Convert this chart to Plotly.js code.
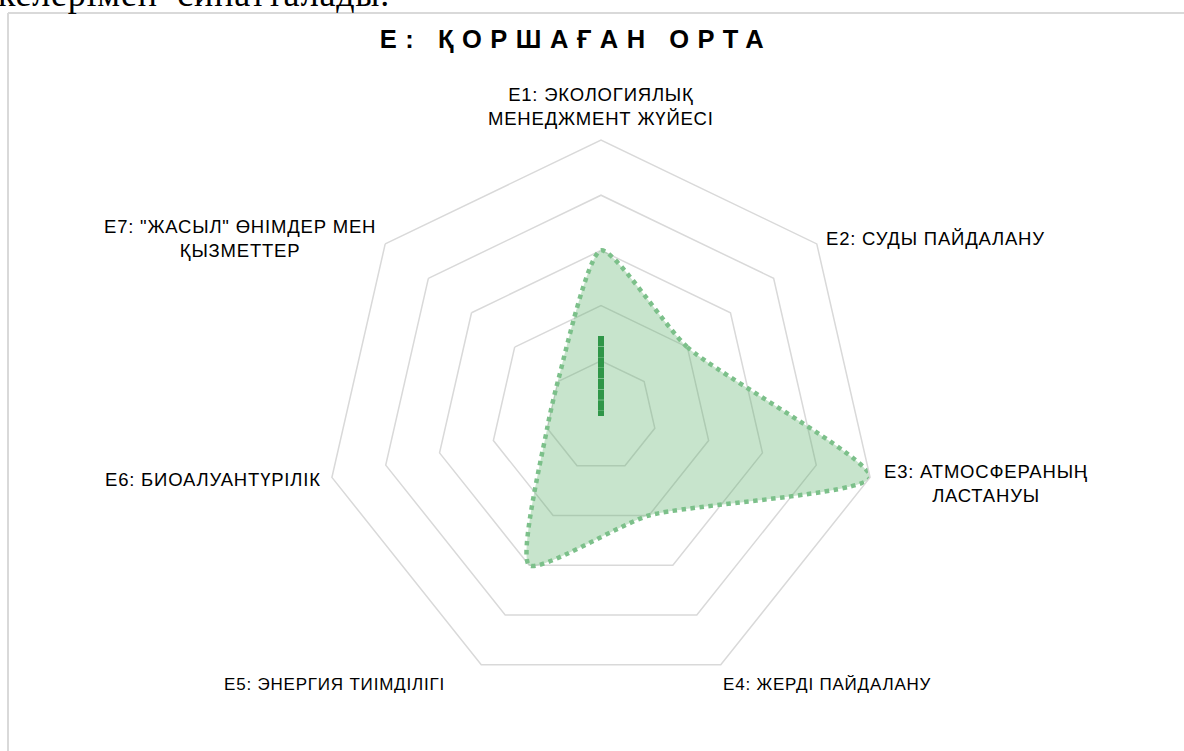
<!DOCTYPE html>
<html>
<head>
<meta charset="utf-8">
<script src="https://cdn.plot.ly/plotly-3.0.1.min.js"></script>
<style>
html,body{margin:0;padding:0;background:#fff;}
#chart{width:1184px;height:751px;}
.gtitle{letter-spacing:8.5px;}
.annotation-text{letter-spacing:0.8px;}
</style>
</head>
<body>
<div id="chart"></div>
<script>
// ---- data ----
const categories = ["E1", "E2", "E3", "E4", "E5", "E6", "E7"];
const categoryLabels = [
  "E1: ЭКОЛОГИЯЛЫҚ<br>МЕНЕДЖМЕНТ ЖҮЙЕСІ",
  "E2: СУДЫ ПАЙДАЛАНУ",
  "E3: АТМОСФЕРАНЫҢ<br>ЛАСТАНУЫ",
  "E4: ЖЕРДІ ПАЙДАЛАНУ",
  "E5: ЭНЕРГИЯ ТИІМДІЛІГІ",
  "E6: БИОАЛУАНТҮРІЛІК",
  "E7: \"ЖАСЫЛ\" ӨНІМДЕР МЕН<br>ҚЫЗМЕТТЕР"
];
const scoreValues = [3, 2, 5, 2, 3, 1, 1];
const secondValues = [1.45, 0, 0, 0, 0, 0, 0];
const radialMax = 5;
const chartTitle = "E: ҚОРШАҒАН ОРТА";
const pageText = "келерімен  сипатталады.";

// ---- layout geometry (pixels) ----
const W = 1184, H = 751;
const cx = 601, cy = 416, R = 276;
const labelPad = 9;
const labelShift = [[0,0],[0,0],[3,4],[-4,0],[-30,0],[0,0],[0,0]];
const labelSize = [18.5, 18.5, 18.5, 17, 17, 18.5, 18.5];

const close = a => a.concat([a[0]]);
const cats = close(categories);

const traces = [
  {
    type: "scatterpolar",
    r: close(scoreValues),
    theta: cats,
    mode: "lines",
    fill: "toself",
    fillcolor: "rgba(90,175,105,0.34)",
    line: {color: "#7cc08a", width: 4.5, dash: "4.5px,4.5px", shape: "spline", smoothing: 0.6},
    hoverinfo: "skip"
  },
  {
    type: "scatterpolar",
    r: close(secondValues),
    theta: cats,
    mode: "lines",
    line: {color: "#2f9648", width: 6, dash: "6px,4.7px"},
    hoverinfo: "skip"
  }
];

const annotations = categoryLabels.map((txt, i) => {
  const ang = (90 - i * 360 / categories.length) * Math.PI / 180;
  const c = Math.cos(ang), s = Math.sin(ang);
  const px = cx + (R + labelPad) * c + labelShift[i][0];
  const py = cy - (R + labelPad) * s + labelShift[i][1];
  return {
    text: txt,
    x: px / W, y: 1 - py / H,
    xref: "paper", yref: "paper",
    xanchor: c > 0.3 ? "left" : (c < -0.3 ? "right" : "center"),
    yanchor: s > 0.85 ? "bottom" : (s < -0.85 ? "top" : "middle"),
    align: "center",
    showarrow: false,
    font: {family: "Liberation Sans, Arial, sans-serif", size: labelSize[i], color: "#000"}
  };
});
annotations.push({
  text: pageText,
  x: -4 / W, y: 1 - 16 / H,
  xref: "paper", yref: "paper",
  xanchor: "left", yanchor: "bottom",
  showarrow: false,
  font: {family: "Liberation Serif, Times New Roman, serif", size: 36, color: "#000"}
});

const layout = {
  width: W, height: H,
  margin: {l: 0, r: 0, t: 0, b: 0},
  paper_bgcolor: "#fff",
  showlegend: false,
  title: {
    text: "<b>" + chartTitle + "</b>",
    x: 576 / W, xanchor: "center",
    y: 1 - 39 / H, yanchor: "middle",
    font: {family: "Liberation Sans, Arial, sans-serif", size: 25.5, color: "#000"}
  },
  polar: {
    domain: {x: [(cx - R) / W, (cx + R) / W], y: [(H - cy - R) / H, (H - cy + R) / H]},
    gridshape: "linear",
    bgcolor: "rgba(0,0,0,0)",
    radialaxis: {
      range: [0, radialMax], dtick: 1, tick0: 0,
      showticklabels: false, ticks: "", showline: false,
      gridcolor: "#d9d9d9", gridwidth: 1.5
    },
    angularaxis: {
      direction: "clockwise", rotation: 90,
      showticklabels: false, ticks: "",
      showgrid: false, showline: true,
      linecolor: "#d9d9d9", linewidth: 1.5
    }
  },
  shapes: [
    {type: "line", xref: "paper", yref: "paper", x0: 8 / W, x1: 1, y0: 1 - 13 / H, y1: 1 - 13 / H, line: {color: "#d9d9d9", width: 2}},
    {type: "line", xref: "paper", yref: "paper", x0: 8 / W, x1: 8 / W, y0: 1 - 13 / H, y1: 0, line: {color: "#d9d9d9", width: 2}}
  ],
  annotations: annotations
};

Plotly.newPlot("chart", traces, layout, {displayModeBar: false, staticPlot: true});
</script>
</body>
</html>
